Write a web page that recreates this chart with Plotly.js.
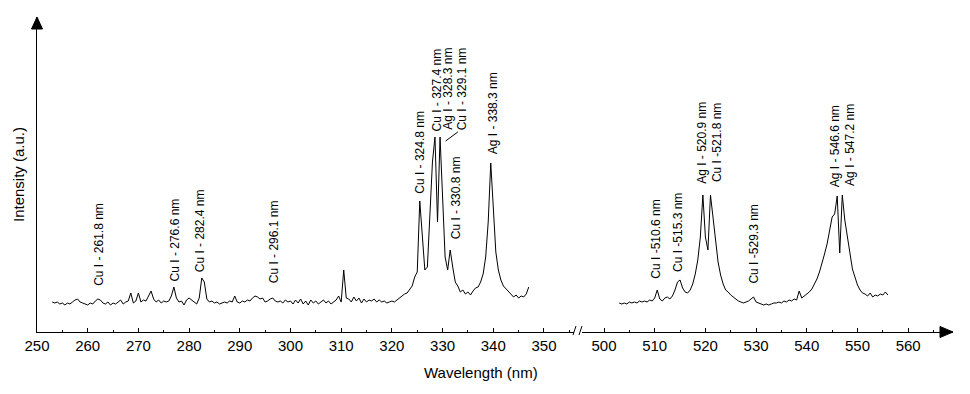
<!DOCTYPE html>
<html>
<head>
<meta charset="utf-8">
<script src="https://cdn.plot.ly/plotly-3.0.1.min.js"></script>
<style>html,body{margin:0;padding:0;background:#fff;}#chart{width:970px;height:394px;}</style>
</head>
<body>
<div id="chart"></div>
<script>
// ---- Data (intensity in arbitrary units) ----
// UV segment: wavelengths 253.0 .. 347.0 nm, step 0.5 nm
const uvStart = 253.0;
const uvStep = 0.5;
const uvIntensity = [
  30,29,30,28,29,27,29,28,30,32,
  33,30,29,28,27,29,28,31,33,32,
  29,28,30,27,29,28,30,32,28,30,
  31,39,29,31,39,30,32,31,36,41,
  33,30,32,29,31,30,31,36,45,34,
  30,31,27,32,34,32,30,28,34,54,
  50,33,30,31,29,30,28,29,30,29,
  31,30,36,30,29,31,30,32,31,34,
  36,35,33,34,30,31,33,34,31,30,
  31,29,32,30,31,28,32,29,33,28,
  31,27,32,29,31,28,30,32,29,31,
  28,30,32,36,30,62,34,33,30,35,
  31,34,29,33,30,32,31,33,30,32,
  30,31,29,30,31,30,32,34,36,38,
  39,42,46,55,60,131,95,62,65,120,
  170,195,110,195,130,75,62,82,65,50,
  46,40,42,38,40,37,41,44,45,50,
  58,75,110,169,125,80,62,52,46,43,
  40,38,35,37,34,36,35,38,45
];
// Visible segment: wavelengths 503.0 .. 556.0 nm, step 0.5 nm
const visStart = 503.0;
const visStep = 0.5;
const visIntensity = [
  29,28,29,28,30,29,30,29,31,30,
  31,30,32,31,34,42,33,31,34,35,
  33,36,42,50,52,44,40,39,42,48,
  58,72,95,137,95,82,137,115,95,70,
  57,48,42,40,37,35,33,31,30,29,
  30,31,33,35,30,29,28,27,28,27,
  28,29,29,30,29,31,30,32,31,33,
  32,41,34,36,38,40,43,48,53,60,
  68,78,88,100,115,118,136,79,137,112,
  95,78,63,55,47,42,39,38,36,39,
  35,37,36,38,37,40,37
];

// Peak labels (UV segment)
const uvLabelText = ["Cu I - 261.8 nm","Cu I - 276.6 nm","Cu I - 282.4 nm","Cu I - 296.1 nm",
  "Cu I - 324.8 nm","Cu I - 327.4 nm","Ag I - 328.3 nm","Cu I - 329.1 nm","Cu I - 330.8 nm","Ag I - 338.3 nm"];
const uvLabelX = [262.1, 277.2, 282.1, 296.7, 325.4, 328.7, 331.0, 333.8, 332.6, 340.0];
const uvLabelY = [45, 50, 59, 48, 137, 199, 201, 201, 92, 177];
// Peak labels (visible segment)
const visLabelText = ["Cu I -510.6 nm","Cu I -515.3 nm","Ag I - 520.9 nm","Cu I -521.8 nm",
  "Cu I -529.3 nm","Ag I - 546.6 nm","Ag I - 547.2 nm"];
const visLabelX = [510.1, 514.5, 519.3, 522.2, 529.4, 545.6, 548.5];
const visLabelY = [52, 59, 147, 149, 47, 144, 145];

const uvTicks = [250,260,270,280,290,300,310,320,330,340,350];
const visTicks = [500,510,520,530,540,550,560];

// ---- Chart ----
const FONT = "Liberation Sans, Arial, Helvetica, sans-serif";
const traces = [
  {x0: uvStart, dx: uvStep, y: uvIntensity, type: "scatter", mode: "lines",
   line: {color: "#000", width: 1}, xaxis: "x", yaxis: "y", hoverinfo: "x+y"},
  {x0: visStart, dx: visStep, y: visIntensity, type: "scatter", mode: "lines",
   line: {color: "#000", width: 1}, xaxis: "x2", yaxis: "y", hoverinfo: "x+y"}
];

const annotations = [];
uvLabelText.forEach((t, i) => annotations.push({
  text: t, x: uvLabelX[i], y: uvLabelY[i], xref: "x", yref: "y",
  textangle: -90, showarrow: false, xanchor: "center", yanchor: "bottom",
  font: {family: FONT, size: 12, color: "#000"}, borderpad: 0
}));
visLabelText.forEach((t, i) => annotations.push({
  text: t, x: visLabelX[i], y: visLabelY[i], xref: "x2", yref: "y",
  textangle: -90, showarrow: false, xanchor: "center", yanchor: "bottom",
  font: {family: FONT, size: 12, color: "#000"}, borderpad: 0
}));
annotations.push({
  text: "Wavelength (nm)", xref: "paper", yref: "paper", x: 0.485, y: -0.128,
  xanchor: "center", yanchor: "middle", showarrow: false,
  font: {family: FONT, size: 15, color: "#000"}
});

const axisCommon = {
  showline: true, linecolor: "#000", linewidth: 1, showgrid: false, zeroline: false,
  ticks: "inside", ticklen: 4, tickcolor: "#000", tickwidth: 1,
  tickfont: {family: FONT, size: 15, color: "#000"},
  minor: {ticks: "inside", ticklen: 2, dtick: 5, tickcolor: "#000", tickwidth: 1},
  fixedrange: true
};

const layout = {
  width: 970, height: 394,
  margin: {l: 37, r: 17, t: 17, b: 62},
  paper_bgcolor: "#fff", plot_bgcolor: "#fff",
  showlegend: false,
  font: {family: FONT, color: "#000"},
  xaxis: Object.assign({}, axisCommon, {
    domain: [0, 0.58624], range: [250, 355.92], tickmode: "array", tickvals: uvTicks,
    minor: Object.assign({}, axisCommon.minor, {tick0: 250})
  }),
  xaxis2: Object.assign({}, axisCommon, {
    domain: [0.59498, 1], range: [495.66, 568.84], anchor: "y", tickmode: "array", tickvals: visTicks,
    minor: Object.assign({}, axisCommon.minor, {tick0: 500})
  }),
  yaxis: {
    range: [0, 315], showline: true, linecolor: "#000", linewidth: 1, showgrid: false,
    zeroline: false, ticks: "", showticklabels: false, fixedrange: true,
    title: {text: "Intensity (a.u.)", font: {family: FONT, size: 15, color: "#000"}, standoff: 7}
  },
  annotations: annotations,
  shapes: [
    // y-axis arrow head
    {type: "path", xref: "paper", yref: "paper", xsizemode: "pixel", ysizemode: "pixel",
     xanchor: 0, yanchor: 1, path: "M-5.5,-12 L5.5,-12 L0,0 Z",
     fillcolor: "#000", line: {color: "#000", width: 1}},
    // x-axis arrow head
    {type: "path", xref: "paper", yref: "paper", xsizemode: "pixel", ysizemode: "pixel",
     xanchor: 1, yanchor: 0, path: "M-13,-5.5 L-13,5.5 L0,0 Z",
     fillcolor: "#000", line: {color: "#000", width: 1}},
    // axis break marks
    {type: "line", xref: "paper", yref: "paper", xsizemode: "pixel", ysizemode: "pixel",
     xanchor: 0.58624, yanchor: 0, x0: -1, y0: -3, x1: 2, y1: 6, line: {color: "#000", width: 1}},
    {type: "line", xref: "paper", yref: "paper", xsizemode: "pixel", ysizemode: "pixel",
     xanchor: 0.59498, yanchor: 0, x0: -3, y0: -3, x1: 0, y1: 6, line: {color: "#000", width: 1}},
    // leader line to the 329.1 nm label
    {type: "line", xref: "x", yref: "y", x0: 330.6, y0: 191, x1: 333.0, y1: 200,
     line: {color: "#000", width: 1}}
  ]
};

Plotly.newPlot("chart", traces, layout, {staticPlot: true, displayModeBar: false});
</script>
</body>
</html>
